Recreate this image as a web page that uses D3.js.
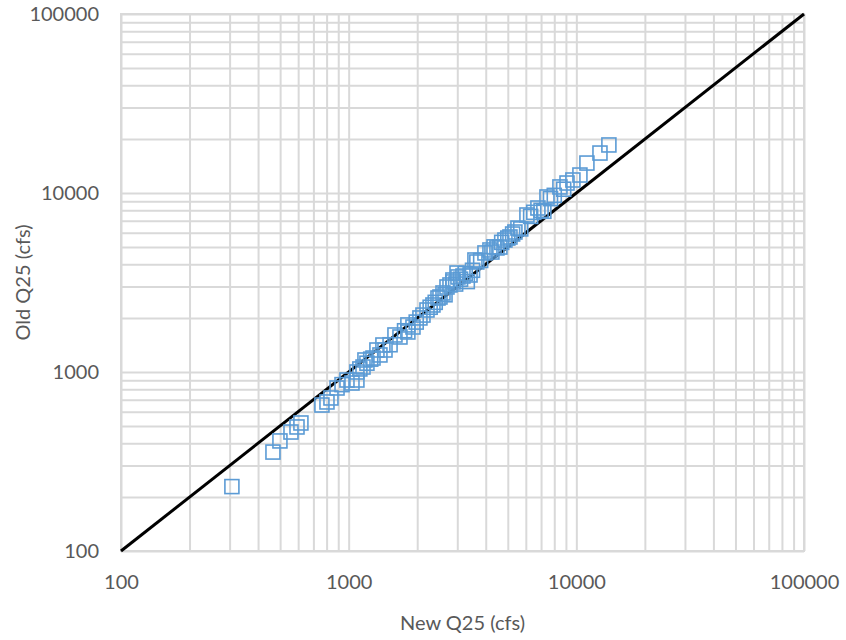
<!DOCTYPE html>
<html>
<head>
<meta charset="utf-8">
<style>
  html, body { margin: 0; padding: 0; background: #fff; }
  svg text { font-family: Lato, "Open Sans", sans-serif; fill: #595959; }
</style>
<script src="https://cdnjs.cloudflare.com/ajax/libs/d3/7.8.5/d3.min.js"></script>
</head>
<body>
<svg width="846" height="640"></svg>
<script>
    // values
    var newQ25 = [307, 465, 499, 558, 593, 617, 763, 803, 836, 889, 935, 983, 1034, 1087, 1087, 1120,
        1156, 1179, 1203, 1250, 1279, 1331, 1372, 1414, 1444, 1520, 1597, 1680, 1760, 1820, 1820, 1916,
        1980, 2056, 2120, 2208, 2280, 2345, 2400, 2468, 2518, 2596, 2650, 2703, 2786, 2870, 2870, 2950,
        2991, 3020, 3100, 3177, 3250, 3320, 3412, 3500, 3586, 3656, 3800, 3968, 4174, 4258, 4350, 4480,
        4617, 4700, 4856, 5000, 5110, 5250, 5373, 5540, 5700, 6067, 6300, 6500, 6780, 7000, 7200, 7430,
        7700, 8000, 8470, 8800, 9100, 9660, 10370, 11130, 12700, 13900];
    var oldQ25 = [229, 357, 412, 462, 493, 519, 654, 680, 716, 814, 850, 902, 868, 902, 1000, 1040,
        1066, 1167, 1120, 1180, 1197, 1327, 1245, 1415, 1327, 1420, 1610, 1569, 1700, 1673, 1832, 1784,
        1900, 2004, 2080, 2220, 2300, 2368, 2450, 2590, 2624, 2763, 2700, 2985, 3063, 3184, 3266, 3100,
        3573, 3396, 3300, 3436, 3550, 3200, 3483, 3700, 4224, 4117, 4200, 4624, 4805, 4680, 5000, 4931,
        4990, 5300, 5460, 5600, 5679, 5900, 6053, 6370, 6300, 7536, 7400, 7800, 8245, 8000, 7900, 9500,
        9300, 9700, 10810, 10500, 11370, 11820, 12600, 14700, 16720, 18550];
    var tickValues = [100, 1000, 10000, 100000];
    var lineEnds = [100, 100000];

    var svg = d3.select("svg"),
        margin = {top: 14, right: 42, bottom: 89, left: 121},
        width = +svg.attr("width") - margin.left - margin.right,
        height = +svg.attr("height") - margin.top - margin.bottom,
        g = svg.append("g").attr("transform", "translate(" + margin.left + "," + margin.top + ")");

    var x = d3.scaleLog().domain([100, 100000]).range([0, width]);
    var y = d3.scaleLog().domain([100, 100000]).range([height, 0]);

    // every 1..9 step of each decade
    var gridVals = x.ticks(30).filter(function(v) { return v >= 100 && v <= 100000; });

    g.append("g")
        .attr("class", "grid")
        .attr("transform", "translate(0," + height + ")")
        .call(d3.axisBottom(x).tickValues(gridVals).tickSize(-height).tickFormat(""))
        .call(function(a) { a.select(".domain").remove(); })
        .selectAll("line").attr("stroke", "#d9d9d9").attr("stroke-width", 2);

    g.append("g")
        .attr("class", "grid")
        .call(d3.axisLeft(y).tickValues(gridVals).tickSize(-width).tickFormat(""))
        .call(function(a) { a.select(".domain").remove(); })
        .selectAll("line").attr("stroke", "#d9d9d9").attr("stroke-width", 2);

    g.append("rect")
        .attr("width", width)
        .attr("height", height)
        .attr("fill", "none")
        .attr("stroke", "#d9d9d9")
        .attr("stroke-width", 2);

    // tick labels
    var aixB = g.append("g")
        .attr("transform", "translate(0," + height + ")")
        .call(d3.axisBottom(x).tickValues(tickValues).tickSize(0).tickPadding(24).tickFormat(d3.format("d")));
    aixB.select(".domain").remove();
    aixB.selectAll("text").style("font-size", "20px").style("font-family", null).attr("fill", "#595959");

    var aixL = g.append("g")
        .call(d3.axisLeft(y).tickValues(tickValues).tickSize(0).tickPadding(22).tickFormat(d3.format("d")));
    aixL.select(".domain").remove();
    aixL.selectAll("text").style("font-size", "20px").style("font-family", null).attr("fill", "#595959");

    // 1:1 line
    g.append("path")
        .datum(lineEnds)
        .attr("fill", "none")
        .attr("stroke", "#000")
        .attr("stroke-width", 3)
        .attr("d", d3.line().x(function(d) { return x(d); }).y(function(d) { return y(d); }));

    var s = 14;
    g.append("g").selectAll("rect")
        .data(newQ25)
        .enter().append("rect")
        .attr("x", function(d) { return x(d) - s / 2; })
        .attr("y", function(d, i) { return y(oldQ25[i]) - s / 2; })
        .attr("width", s)
        .attr("height", s)
        .attr("fill", "none")
        .attr("stroke", "#5b9bd5")
        .attr("stroke-width", 1.6);

    svg.append("text")
        .attr("x", margin.left + width / 2)
        .attr("y", 630)
        .attr("text-anchor", "middle")
        .style("font-size", "20px")
        .text("New Q25 (cfs)");

    svg.append("text")
        .attr("transform", "translate(30," + (margin.top + height / 2) + ") rotate(-90)")
        .attr("text-anchor", "middle")
        .style("font-size", "20px")
        .text("Old Q25 (cfs)");
</script>
</body>
</html>
